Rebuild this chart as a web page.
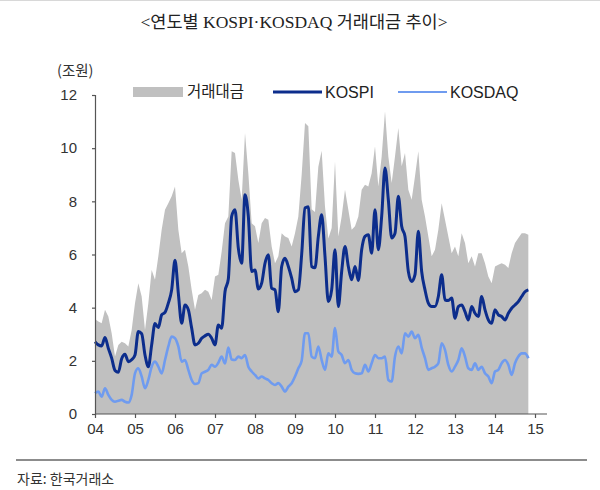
<!DOCTYPE html>
<html>
<head>
<meta charset="utf-8">
<script src="https://cdn.jsdelivr.net/npm/d3@7"></script>
<style>
  body { margin: 0; background: #fff; }
  svg { display: block; }
  .num { font-family: "Liberation Sans Narrow", "Liberation Sans", Arial, sans-serif; font-stretch: condensed; }
  .kr { font-family: "Noto Sans CJK KR", "Noto Sans", sans-serif; }
</style>
</head>
<body>
<div id="chart"></div>
<script>
"use strict";
//monthly, Jan 2004 .. Nov 2014 (unit: 조원)
var years = ["04", "05", "06", "07", "08", "09", "10", "11", "12", "13", "14", "15"];
var yTicks = [0, 2, 4, 6, 8, 10, 12];

var total = [
  3.57, 3.48, 3.41, 3.92, 3.67, 3.04, 2.16, 2.6, 2.72, 2.66, 2.54, 3.16,
  4.17, 4.92, 4.42, 3.16, 4.17, 5.42, 5.05, 5.93, 6.93, 7.68, 7.93, 8.19,
  8.56, 6.93, 6.05, 6.18, 5.55, 4.67, 3.92, 4.48, 4.54, 4.67, 4.6, 4.29,
  5.17, 5.24, 6.11, 7.18, 7.43, 9.88, 9.82, 8.81, 8.06, 10.57, 9.06, 7.18,
  7.06, 6.43, 7.18, 7.37, 7.31, 6.3, 5.67, 5.93, 6.8, 6.68, 6.62, 6.3,
  6.8, 7.43, 9.0, 10.95, 10.82, 7.7, 7.6, 9.3, 9.9, 7.8, 6.6, 7.0,
  9.5, 6.68, 7.43, 8.44, 7.68, 6.93, 7.06, 7.43, 8.44, 8.62, 8.56, 9.06,
  10.07, 8.56, 9.69, 11.39, 9.69, 8.69, 9.69, 10.76, 9.32, 9.82, 8.44, 8.06,
  8.94, 9.88, 8.06, 7.43, 6.68, 5.93, 6.18, 6.93, 7.93, 7.31, 6.68, 6.05,
  6.3, 5.93, 6.8, 6.43, 5.67, 5.93, 5.55, 6.05, 6.05, 5.67, 5.17, 4.92,
  5.55, 5.61, 5.67, 5.61, 5.49, 6.05, 6.43, 6.62, 6.8, 6.8, 6.74
];

var kospi = [
  2.72, 2.6, 2.56, 2.88, 2.47, 2.1, 1.64, 1.57, 2.08, 2.25, 1.97, 2.04,
  2.22, 3.1, 3.02, 2.22, 1.78, 2.6, 3.4, 3.25, 3.73, 3.82, 4.17, 4.67,
  5.78, 4.54, 3.41, 4.1, 3.92, 3.23, 2.6, 2.66, 2.85, 2.94, 3.0, 2.85,
  2.6, 3.35, 3.23, 4.6, 5.08, 7.43, 7.68, 6.24, 5.67, 8.25, 7.43, 5.36,
  5.42, 4.7, 4.92, 5.67, 5.99, 4.73, 4.67, 3.85, 5.55, 5.86, 5.55, 5.11,
  4.6, 4.67, 6.0, 7.75, 7.8, 5.55, 5.5, 6.68, 7.5, 5.93, 4.23, 4.67,
  6.18, 4.04, 5.36, 6.3, 5.55, 5.05, 5.55, 5.02, 6.18, 6.68, 6.74, 6.05,
  7.68, 6.18, 7.43, 9.25, 8.06, 6.62, 6.8, 8.19, 7.06, 6.68, 5.36, 4.98,
  5.24, 6.87, 5.36, 4.67, 4.17, 4.04, 4.04, 4.42, 5.24, 4.29, 4.27, 4.36,
  3.6, 4.04, 4.1, 3.85, 3.54, 4.04, 3.79, 3.67, 4.42, 3.92, 3.54, 3.41,
  3.92, 3.73, 3.67, 3.54, 3.79, 3.98, 4.1, 4.23, 4.42, 4.6, 4.67
];

var kosdaq = [
  0.78, 0.84, 0.65, 0.97, 0.72, 0.53, 0.46, 0.5, 0.53, 0.46, 0.43, 0.72,
  1.53, 1.72, 1.41, 0.97, 1.28, 1.78, 1.97, 1.78, 1.53, 2.03, 2.54, 2.91,
  2.85, 2.54, 1.97, 2.03, 1.66, 1.28, 1.13, 1.16, 1.53, 1.59, 1.66, 1.85,
  1.78, 1.93, 2.16, 1.9, 2.5, 2.05, 2.03, 2.16, 2.1, 2.22, 1.78, 1.6,
  1.47, 1.34, 1.41, 1.34, 1.28, 1.16, 1.09, 1.16, 1.03, 0.84, 1.03, 1.16,
  1.41, 1.72, 2.0, 3.04, 3.04, 2.16, 2.1, 2.54, 2.03, 1.66, 2.28, 2.16,
  3.23, 2.35, 2.22, 1.91, 2.03, 1.66, 1.53, 1.51, 1.53, 1.85, 1.6, 1.91,
  2.22, 2.1, 2.1, 2.16, 1.28, 1.22, 2.16, 2.54, 2.28, 3.04, 2.91, 3.1,
  2.85, 2.98, 2.5, 2.1, 1.66, 1.72, 1.78, 1.91, 2.66, 2.41, 1.85, 1.6,
  1.78, 2.03, 2.47, 2.16, 1.72, 1.66, 1.91, 1.66, 1.78, 1.53, 1.41, 1.16,
  1.6, 1.66, 1.91, 2.03, 1.85, 1.47, 1.91, 2.16, 2.28, 2.28, 2.1
];

var seriesNames = ["거래대금", "KOSPI", "KOSDAQ"];
var colors = { total: "#c0c0c0", kospi: "#0c2d8c", kosdaq: "#6f9bef" };

var w = 600,
  h = 490;

var svg = d3
  .select("#chart")
  .append("svg")
  .attr("width", w)
  .attr("height", h);

svg.append("rect").attr("width", w).attr("height", h).attr("fill", "#fff");

//faint table border on top
svg
  .append("line")
  .attr("x1", 0)
  .attr("x2", w)
  .attr("y1", 0.5)
  .attr("y2", 0.5)
  .attr("stroke", "#d8d8d8");

//x is month index from Jan 2004
var x = d3
  .scaleLinear()
  .domain([0, 132])
  .range([95, 535]);
var y = d3
  .scaleLinear()
  .domain([0, 12])
  .range([414, 95]);

var area = d3
  .area()
  .x(function(d, i) {
    return x(i);
  })
  .y0(y(0))
  .y1(function(d) {
    return y(d);
  });

var line = d3
  .line()
  .x(function(d, i) {
    return x(i);
  })
  .y(function(d) {
    return y(d);
  })
  .curve(d3.curveMonotoneX);

svg
  .append("path")
  .datum(total)
  .attr("d", area)
  .attr("fill", colors.total);

svg
  .append("path")
  .datum(kosdaq)
  .attr("d", line)
  .attr("fill", "none")
  .attr("stroke", colors.kosdaq)
  .attr("stroke-width", 2.6)
  .attr("stroke-linejoin", "round");

svg
  .append("path")
  .datum(kospi)
  .attr("d", line)
  .attr("fill", "none")
  .attr("stroke", colors.kospi)
  .attr("stroke-width", 3)
  .attr("stroke-linejoin", "round");

//axes
var yAxis = svg
  .append("g")
  .attr("transform", "translate(95,0)")
  .call(
    d3
      .axisLeft(y)
      .tickValues(yTicks)
      .tickSize(3)
      .tickPadding(15)
  );

var xAxis = svg
  .append("g")
  .attr("transform", "translate(0," + y(0) + ")")
  .call(
    d3
      .axisBottom(x)
      .tickValues(
        years.map(function(d, i) {
          return i * 12;
        })
      )
      .tickFormat(function(d) {
        return years[d / 12];
      })
      .tickSize(4)
      .tickPadding(5)
  );
xAxis.select(".domain").attr("d", "M95,0H547");

[xAxis, yAxis].forEach(function(a) {
  a.selectAll(".domain, line").attr("stroke", "#555").attr("stroke-width", 1.2);
  a.selectAll("text")
    .attr("class", "num")
    .attr("fill", "#333")
    .style("font-size", "15px");
});

//unit label
svg
  .append("text")
  .attr("class", "kr")
  .attr("x", 57)
  .attr("y", 76)
  .attr("fill", "#333")
  .style("font-size", "14.5px")
  .text("(조원)");

//title
svg
  .append("text")
  .attr("x", 294)
  .attr("y", 28)
  .attr("text-anchor", "middle")
  .attr("fill", "#222")
  .style("font-family", '"Liberation Serif", "Noto Sans CJK KR", serif')
  .style("font-size", "17.5px")
  .text("<연도별 KOSPI·KOSDAQ 거래대금 추이>");

//legend
var lg = svg.append("g").attr("transform", "translate(0,92)");
lg.append("rect")
  .attr("x", 133)
  .attr("y", -5)
  .attr("width", 50)
  .attr("height", 10)
  .attr("fill", colors.total);
lg.append("line")
  .attr("x1", 273)
  .attr("x2", 322)
  .attr("stroke", colors.kospi)
  .attr("stroke-width", 3);
lg.append("line")
  .attr("x1", 398)
  .attr("x2", 447)
  .attr("stroke", colors.kosdaq)
  .attr("stroke-width", 2);
[[187, "kr"], [325, "num"], [450, "num"]].forEach(function(p, i) {
  lg.append("text")
    .attr("class", p[1])
    .attr("x", p[0])
    .attr("y", 0)
    .attr("dy", "0.35em")
    .attr("fill", "#222")
    .style("font-size", i == 0 ? "15.5px" : "16px")
    .text(seriesNames[i]);
});

//source
svg
  .append("line")
  .attr("x1", 16)
  .attr("x2", 587)
  .attr("y1", 460)
  .attr("y2", 460)
  .attr("stroke", "#666")
  .attr("stroke-width", 1.5);
svg
  .append("text")
  .attr("class", "kr")
  .attr("x", 17)
  .attr("y", 484)
  .attr("fill", "#333")
  .style("font-size", "14px")
  .text("자료: 한국거래소");
</script>
</body>
</html>
